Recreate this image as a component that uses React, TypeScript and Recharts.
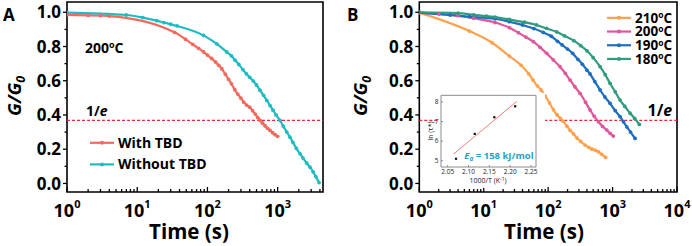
import {
  LineChart,
  ComposedChart,
  Line,
  Scatter,
  XAxis,
  YAxis,
  ReferenceLine,
  ReferenceArea,
  Legend,
} from "recharts";

const FONT = "'Open Sans', 'DejaVu Sans', sans-serif";
const INV_E = 1 / Math.E;

// ---- panel A : 200 oC, with / without TBD ----
const withTbdTime = [1, 2, 3, 4, 34, 49, 62, 75, 88, 100, 115, 130, 145, 160, 180, 200, 220, 245, 270, 300, 330, 360, 400, 440, 480, 520, 563, 610, 660, 720, 780, 850, 920, 1000];
const withTbdG = [0.985, 0.982, 0.98, 0.978, 0.883, 0.842, 0.812, 0.789, 0.768, 0.75, 0.73, 0.71, 0.69, 0.67, 0.638, 0.608, 0.582, 0.548, 0.522, 0.498, 0.475, 0.458, 0.445, 0.425, 0.405, 0.385, 0.368, 0.352, 0.337, 0.322, 0.31, 0.296, 0.285, 0.275];
const withoutTbdTime = [1, 7, 12, 19, 24, 30, 37, 88, 136, 188, 220, 248, 280, 320, 360, 400, 451, 500, 560, 630, 700, 780, 860, 950, 1083, 1200, 1350, 1500, 1650, 1850, 2084, 2300, 2600, 2890, 3200, 3500, 3890];
const withoutTbdG = [0.998, 0.984, 0.969, 0.951, 0.94, 0.93, 0.92, 0.865, 0.815, 0.768, 0.745, 0.72, 0.695, 0.665, 0.64, 0.62, 0.598, 0.575, 0.545, 0.515, 0.485, 0.455, 0.428, 0.4, 0.368, 0.335, 0.3, 0.27, 0.24, 0.205, 0.174, 0.148, 0.118, 0.095, 0.068, 0.04, 0.005];

// ---- panel B : four temperatures ----
const t210 = [1, 6, 13.5, 25, 38, 50, 58, 68, 78, 90, 105, 121, 138, 155, 172, 195, 220, 247, 280, 320, 374, 430, 480, 535, 600, 680, 780];
const g210 = [0.998, 0.89, 0.822, 0.744, 0.69, 0.64, 0.605, 0.57, 0.545, 0.51, 0.47, 0.43, 0.4, 0.38, 0.363, 0.335, 0.31, 0.29, 0.265, 0.245, 0.224, 0.21, 0.2, 0.195, 0.185, 0.17, 0.152];
const t200 = [1, 2, 4, 7, 15, 25, 34.5, 45, 59, 75, 95, 120, 153, 185, 219, 260, 313, 380, 447, 520, 603, 700, 813, 920, 1028];
const g200 = [0.998, 0.99, 0.98, 0.965, 0.94, 0.91, 0.881, 0.855, 0.828, 0.795, 0.76, 0.722, 0.682, 0.643, 0.604, 0.565, 0.526, 0.475, 0.429, 0.392, 0.36, 0.333, 0.312, 0.292, 0.277];
const t190 = [1, 3, 6, 15, 25, 40, 60, 84, 112, 140, 165, 200, 240, 290, 340, 400, 447, 530, 640, 760, 914, 1100, 1307, 1480, 1660, 1900, 2235];
const g190 = [0.998, 0.984, 0.974, 0.962, 0.945, 0.926, 0.905, 0.882, 0.86, 0.83, 0.809, 0.785, 0.76, 0.725, 0.696, 0.662, 0.64, 0.595, 0.546, 0.505, 0.468, 0.425, 0.39, 0.36, 0.331, 0.3, 0.263];
const t180 = [1, 4, 7, 11, 15, 25, 43, 66, 94, 136, 180, 250, 320, 400, 500, 640, 770, 914, 1100, 1307, 1550, 1870, 2200, 2600];
const g180 = [1.0, 0.995, 0.985, 0.978, 0.972, 0.958, 0.942, 0.926, 0.906, 0.885, 0.862, 0.834, 0.805, 0.775, 0.735, 0.682, 0.635, 0.585, 0.535, 0.487, 0.45, 0.41, 0.38, 0.345];

const tempLabels = ["210", "200", "190", "180"];
const tempColors = ["#FDA14E", "#DF579C", "#1F6EBE", "#2F9C7F"];

// ---- inset : Arrhenius plot ----
const invT = [2.07, 2.115, 2.162, 2.212];
const lnTau = [5.1, 6.37, 7.22, 7.78];
const fitX = [2.064, 2.216];
const fitY = [5.34, 8.03];

// ---- axis ticks ----
const yTicks = [0, 0.1, 0.2, 0.3, 0.4, 0.5, 0.6, 0.7, 0.8, 0.9, 1.0];
const decadesA = [1, 10, 100, 1000];
const decadesB = [1, 10, 100, 1000, 10000];
const insetXTicks = [2.05, 2.1, 2.15, 2.2, 2.25];
const insetYTicks = [5, 6, 7, 8];

const minorsOf = (decades: number[], max: number) =>
  decades.flatMap((d) => [1, 2, 3, 4, 5, 6, 7, 8, 9].map((m) => m * d)).filter((v) => v <= max);

const zip = (xs: number[], ys: number[]) => xs.map((t, i) => ({ t, g: ys[i] }));

const XLogTick = (props: any) => {
  const { x, y, payload } = props;
  const lg = Math.log10(payload.value);
  const exp = Math.round(lg);
  const major = Math.abs(lg - exp) < 1e-6;
  return (
    <g>
      <line x1={x} x2={x} y1={y} y2={y - (major ? 5 : 3)} stroke="#000" strokeWidth={1.3} />
      {major && (
        <text x={x} y={y + 25} textAnchor="middle" fontFamily={FONT} fontWeight="bold" fontSize={18} fill="#000">
          10<tspan dy={-9} fontSize={11}>{exp}</tspan>
        </text>
      )}
    </g>
  );
};

const YTick = (props: any) => {
  const { x, y, payload } = props;
  const v = payload.value;
  const major = Math.abs(v * 5 - Math.round(v * 5)) < 1e-6;
  return (
    <g>
      <line x1={x} x2={x - (major ? 4 : 2.5)} y1={y} y2={y} stroke="#000" strokeWidth={1.3} />
      {major && (
        <text x={x - 6} y={y} dy="0.36em" textAnchor="end" fontFamily={FONT} fontWeight="bold" fontSize={17} fill="#000">
          {v.toFixed(1)}
        </text>
      )}
    </g>
  );
};

const InsetXTick = (props: any) => {
  const { x, y, payload } = props;
  return (
    <g>
      <line x1={x} x2={x} y1={y} y2={y - 2} stroke="#777" strokeWidth={0.8} />
      <text x={x} y={y + 6.5} textAnchor="middle" fontFamily={FONT} fontSize={6.5} fill="#222">
        {payload.value.toFixed(2)}
      </text>
    </g>
  );
};

const InsetYTick = (props: any) => {
  const { x, y, payload } = props;
  return (
    <g>
      <line x1={x} x2={x + 2} y1={y} y2={y} stroke="#777" strokeWidth={0.8} />
      <text x={x - 2.5} y={y} dy="0.36em" textAnchor="end" fontFamily={FONT} fontSize={6.5} fill="#222">
        {payload.value}
      </text>
    </g>
  );
};

type LegendItem = { color: string; label: any };

const PAD = 5;

const LegendBox = ({ items, gap, width, fontSize }: { items: LegendItem[]; gap: number; width: number; fontSize: number }) => (
  <svg width={width} height={gap * items.length + PAD * 2} style={{ display: "block", overflow: "visible" }}>
    {items.map((it, i) => {
      const cy = PAD + gap / 2 + i * gap;
      return (
        <g key={i}>
          <line x1={0} x2={24} y1={cy} y2={cy} stroke={it.color} strokeWidth={2.2} />
          <circle cx={12} cy={cy} r={2} fill={it.color} />
          <text x={28} y={cy} dy="0.36em" fontFamily={FONT} fontWeight="bold" fontSize={fontSize} fill="#000">
            {it.label}
          </text>
        </g>
      );
    })}
  </svg>
);

const degLabel = (t: string, sup = 9, shift = 5) => (
  <>
    {t}
    <tspan dy={-shift} fontSize={sup}>o</tspan>
    <tspan dy={shift}>C</tspan>
  </>
);

const series = (data: { t: number; g: number }[], color: string, key: string) => (
  <Line
    key={key}
    data={data}
    dataKey="g"
    type="monotone"
    stroke={color}
    strokeWidth={2.2}
    dot={{ r: 1.9, fill: color, stroke: color, strokeWidth: 0 }}
    activeDot={false}
    isAnimationActive={false}
  />
);

const Y_DOMAIN: [number, number] = [-0.05, 1.06];

const PanelA = () => {
  const dom: [number, number] = [1, 4425];
  return (
    <LineChart width={346} height={246} margin={{ top: 2, right: 23, bottom: 0, left: 0 }}>
      <XAxis
        type="number"
        dataKey="t"
        scale="log"
        domain={dom}
        allowDataOverflow
        ticks={minorsOf(decadesA, dom[1])}
        interval={0}
        tickSize={0}
        tickMargin={0}
        tickLine={false}
        axisLine={false}
        height={54}
        tick={XLogTick}
      />
      <YAxis
        type="number"
        domain={Y_DOMAIN}
        allowDataOverflow
        ticks={yTicks}
        interval={0}
        tickSize={0}
        tickMargin={0}
        tickLine={false}
        axisLine={false}
        width={67}
        tick={YTick}
      />
      <ReferenceLine y={INV_E} stroke="#D9303D" strokeWidth={1.3} strokeDasharray="3 2" />
      <ReferenceArea x1={dom[0]} x2={dom[1]} y1={Y_DOMAIN[0]} y2={Y_DOMAIN[1]} fill="none" stroke="#000" strokeWidth={1.6} ifOverflow="visible" />
      {series(zip(withTbdTime, withTbdG), "#F26A5F", "with")}
      {series(zip(withoutTbdTime, withoutTbdG), "#1EBCC0", "without")}
      <Legend
        layout="vertical"
        align="center"
        verticalAlign="middle"
        wrapperStyle={{ left: 90, top: 132 - PAD, width: 130, height: 44 + PAD * 2 }}
        content={() => (
          <LegendBox
            width={130}
            gap={21.6}
            fontSize={14}
            items={[
              { color: "#F26A5F", label: "With TBD" },
              { color: "#1EBCC0", label: "Without TBD" },
            ]}
          />
        )}
      />
    </LineChart>
  );
};

const PanelB = () => {
  const dom: [number, number] = [1, 10000];
  const sets = [zip(t210, g210), zip(t200, g200), zip(t190, g190), zip(t180, g180)];
  return (
    <LineChart width={346} height={246} margin={{ top: 2, right: 15, bottom: 0, left: 0 }}>
      <XAxis
        type="number"
        dataKey="t"
        scale="log"
        domain={dom}
        allowDataOverflow
        ticks={minorsOf(decadesB, dom[1])}
        interval={0}
        tickSize={0}
        tickMargin={0}
        tickLine={false}
        axisLine={false}
        height={54}
        tick={XLogTick}
      />
      <YAxis
        type="number"
        domain={Y_DOMAIN}
        allowDataOverflow
        ticks={yTicks}
        interval={0}
        tickSize={0}
        tickMargin={0}
        tickLine={false}
        axisLine={false}
        width={73.3}
        tick={YTick}
      />
      <ReferenceLine y={INV_E} stroke="#D9303D" strokeWidth={1.3} strokeDasharray="3 2" />
      <ReferenceArea x1={dom[0]} x2={dom[1]} y1={Y_DOMAIN[0]} y2={Y_DOMAIN[1]} fill="none" stroke="#000" strokeWidth={1.6} ifOverflow="visible" />
      {sets.map((d, i) => series(d, tempColors[i], tempLabels[i]))}
      <Legend
        layout="vertical"
        align="center"
        verticalAlign="middle"
        wrapperStyle={{ left: 260.7, top: 10.6 - PAD, width: 80, height: 55 + PAD * 2 }}
        content={() => (
          <LegendBox
            width={80}
            gap={13.7}
            fontSize={13.5}
            items={tempLabels.map((t, i) => ({ color: tempColors[i], label: degLabel(t, 8.5, 4.5) }))}
          />
        )}
      />
    </LineChart>
  );
};

const Inset = () => {
  const xDom: [number, number] = [2.034, 2.262];
  const yDom: [number, number] = [4.68, 8.34];
  const pts = invT.map((x, i) => ({ x, y: lnTau[i] }));
  const fit = fitX.map((x, i) => ({ x, y: fitY[i] }));
  return (
    <ComposedChart width={125} height={100} margin={{ top: 7.3, right: 14, bottom: 0, left: 0 }}>
      <XAxis
        type="number"
        dataKey="x"
        domain={xDom}
        allowDataOverflow
        ticks={insetXTicks}
        interval={0}
        tickSize={0}
        tickMargin={0}
        tickLine={false}
        axisLine={false}
        height={21}
        tick={InsetXTick}
      />
      <YAxis
        type="number"
        dataKey="y"
        domain={yDom}
        allowDataOverflow
        ticks={insetYTicks}
        interval={0}
        tickSize={0}
        tickMargin={0}
        tickLine={false}
        axisLine={false}
        width={16}
        tick={InsetYTick}
      />
      <ReferenceArea x1={xDom[0]} x2={xDom[1]} y1={yDom[0]} y2={yDom[1]} fill="none" stroke="#8a8a8a" strokeWidth={1} ifOverflow="visible" />
      <Line data={fit} dataKey="y" type="linear" stroke="#F47E7A" strokeWidth={1} dot={false} activeDot={false} isAnimationActive={false} />
      <Scatter
        data={pts}
        dataKey="y"
        fill="#000"
        isAnimationActive={false}
        shape={(p: any) => <rect x={p.cx - 1.1} y={p.cy - 1.1} width={2.2} height={2.2} fill="#111" />}
      />
    </ComposedChart>
  );
};

const Overlay = () => (
  <svg width={692} height={246} style={{ position: "absolute", left: 0, top: 0, pointerEvents: "none" }}>
    <g fontFamily={FONT} fontWeight="bold" fill="#000">
      <text x={3} y={20.5} fontSize={17}>A</text>
      <text x={347} y={20.5} fontSize={17}>B</text>
      <text x={85} y={52.7} fontSize={14}>{degLabel("200")}</text>
      <text x={86} y={116} fontSize={14}>
        1/<tspan fontStyle="italic">e</tspan>
      </text>
      <text x={647.5} y={115.5} fontSize={16}>
        1/<tspan fontStyle="italic">e</tspan>
      </text>
      <text transform="translate(20.5,96) rotate(-90)" textAnchor="middle" fontSize={18.5} fontStyle="italic">
        G/G<tspan dy={4} fontSize={12.5}>0</tspan>
      </text>
      <text transform="translate(367,96) rotate(-90)" textAnchor="middle" fontSize={18.5} fontStyle="italic">
        G/G<tspan dy={4} fontSize={12.5}>0</tspan>
      </text>
      <text x={189} y={239} textAnchor="middle" fontSize={20.5}>Time (s)</text>
      <text x={544} y={239} textAnchor="middle" fontSize={20.5}>Time (s)</text>
      <text x={464.3} y={158.7} fontSize={9.5} fill="#2A9FC4">
        <tspan fontStyle="italic">E</tspan>
        <tspan dy={2} fontSize={6.5} fontStyle="italic">a</tspan>
        <tspan dy={-2}> = 158 kJ/mol</tspan>
      </text>
    </g>
    <g fontFamily={FONT} fill="#222">
      <text transform="translate(432.5,131) rotate(-90)" textAnchor="middle" fontSize={7}>
        ln (τ*)
      </text>
      <text x={488} y={183} textAnchor="middle" fontSize={7}>
        1000/T (K<tspan dy={-2.5} fontSize={5}>-1</tspan><tspan dy={2.5}>)</tspan>
      </text>
    </g>
  </svg>
);

export default function App() {
  return (
    <div style={{ position: "absolute", left: 0, top: 0, width: 692, height: 246, background: "#fff", overflow: "hidden" }}>
      <div style={{ position: "absolute", left: 0, top: 0 }}>
        <PanelA />
      </div>
      <div style={{ position: "absolute", left: 346, top: 0 }}>
        <PanelB />
      </div>
      <div style={{ position: "absolute", left: 437, top: 93, width: 108, height: 95, background: "#fff" }} />
      <div style={{ position: "absolute", left: 425, top: 88 }}>
        <Inset />
      </div>
      <Overlay />
    </div>
  );
}
